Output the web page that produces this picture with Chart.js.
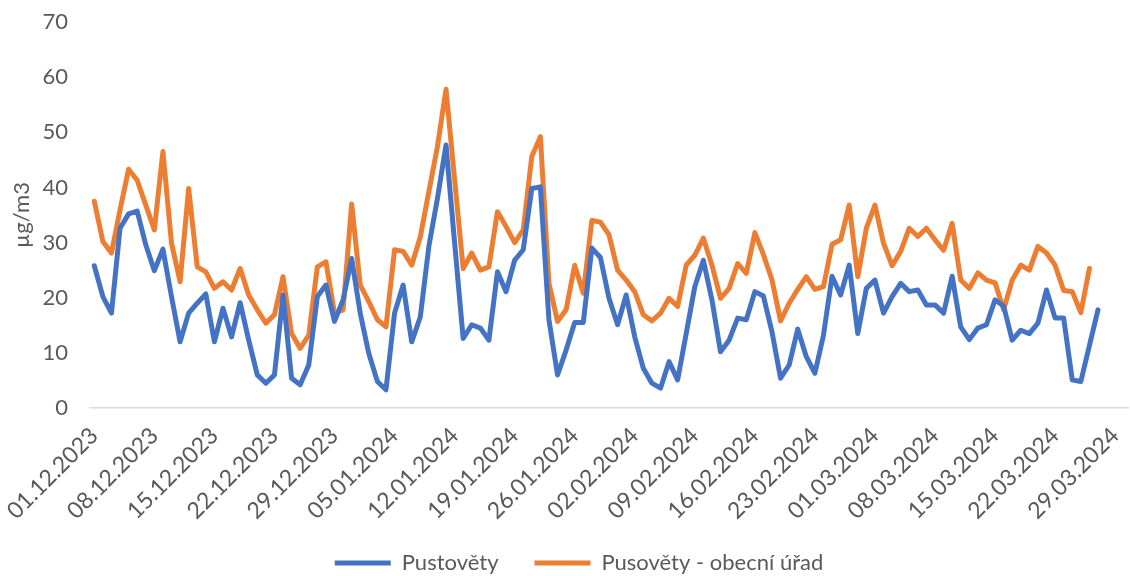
<!DOCTYPE html>
<html lang="cs">
<head>
<meta charset="utf-8">
<title>PM10 Pustověty</title>
<script src="https://cdn.jsdelivr.net/npm/chart.js@4.4.1/dist/chart.umd.min.js"></script>
<style>
  html, body { margin: 0; padding: 0; background: #ffffff; }
  #wrap { width: 1130px; height: 576px; position: relative; }
</style>
</head>
<body>
<div id="wrap"><canvas id="chart" width="1130" height="576"></canvas></div>
<script>
// Daily dates 01.12.2023 – 30.03.2024
const days = [
  '01.12.2023','02.12.2023','03.12.2023','04.12.2023','05.12.2023','06.12.2023','07.12.2023','08.12.2023','09.12.2023','10.12.2023',
  '11.12.2023','12.12.2023','13.12.2023','14.12.2023','15.12.2023','16.12.2023','17.12.2023','18.12.2023','19.12.2023','20.12.2023',
  '21.12.2023','22.12.2023','23.12.2023','24.12.2023','25.12.2023','26.12.2023','27.12.2023','28.12.2023','29.12.2023','30.12.2023','31.12.2023',
  '01.01.2024','02.01.2024','03.01.2024','04.01.2024','05.01.2024','06.01.2024','07.01.2024','08.01.2024','09.01.2024','10.01.2024',
  '11.01.2024','12.01.2024','13.01.2024','14.01.2024','15.01.2024','16.01.2024','17.01.2024','18.01.2024','19.01.2024','20.01.2024',
  '21.01.2024','22.01.2024','23.01.2024','24.01.2024','25.01.2024','26.01.2024','27.01.2024','28.01.2024','29.01.2024','30.01.2024','31.01.2024',
  '01.02.2024','02.02.2024','03.02.2024','04.02.2024','05.02.2024','06.02.2024','07.02.2024','08.02.2024','09.02.2024','10.02.2024',
  '11.02.2024','12.02.2024','13.02.2024','14.02.2024','15.02.2024','16.02.2024','17.02.2024','18.02.2024','19.02.2024','20.02.2024',
  '21.02.2024','22.02.2024','23.02.2024','24.02.2024','25.02.2024','26.02.2024','27.02.2024','28.02.2024','29.02.2024',
  '01.03.2024','02.03.2024','03.03.2024','04.03.2024','05.03.2024','06.03.2024','07.03.2024','08.03.2024','09.03.2024','10.03.2024',
  '11.03.2024','12.03.2024','13.03.2024','14.03.2024','15.03.2024','16.03.2024','17.03.2024','18.03.2024','19.03.2024','20.03.2024',
  '21.03.2024','22.03.2024','23.03.2024','24.03.2024','25.03.2024','26.03.2024','27.03.2024','28.03.2024','29.03.2024','30.03.2024'
];

// Dates printed under the axis (weekly)
const tickLabels = [
  '01.12.2023','08.12.2023','15.12.2023','22.12.2023','29.12.2023','05.01.2024',
  '12.01.2024','19.01.2024','26.01.2024','02.02.2024','09.02.2024','16.02.2024',
  '23.02.2024','01.03.2024','08.03.2024','15.03.2024','22.03.2024','29.03.2024'
];

// Pustověty, daily mean (µg/m3)
const pustovety = [
  25.8, 20.2, 17.2, 32.6, 35.2, 35.7, 29.6, 24.9, 28.8, 20.2,
  12.0, 17.2, 19.0, 20.7, 12.0, 18.1, 12.9, 19.1, 12.3, 6.0,
  4.5, 6.0, 20.5, 5.4, 4.2, 7.8, 20.2, 22.3, 15.7, 19.6, 27.1,
  17.2, 9.9, 4.8, 3.3, 17.2, 22.3, 12.0, 16.5, 29.3, 38.0,
  47.7, 30.0, 12.6, 15.1, 14.5, 12.3, 24.7, 21.1, 26.8, 28.7,
  39.8, 40.1, 16.0, 6.0, 10.5, 15.5, 15.5, 29.0, 27.3, 19.9, 15.1,
  20.5, 12.9, 7.2, 4.5, 3.6, 8.4, 5.1, 13.5, 22.0, 26.8,
  19.6, 10.2, 12.3, 16.3, 16.0, 21.1, 20.3, 13.8, 5.4, 7.8,
  14.3, 9.3, 6.3, 13.2, 23.9, 20.5, 25.9, 13.5, 21.7,
  23.2, 17.2, 20.2, 22.6, 21.1, 21.4, 18.7, 18.7, 17.2, 23.9,
  14.7, 12.4, 14.5, 15.1, 19.6, 18.5, 12.3, 14.1, 13.5, 15.4,
  21.4, 16.3, 16.3, 5.1, 4.8, 11.3, 17.8, null, null, null
];

// Pusověty - obecní úřad, daily mean (µg/m3)
const obecniUrad = [
  37.5, 30.2, 28.1, 35.9, 43.3, 41.3, 36.8, 32.3, 46.5, 29.9,
  22.9, 39.8, 25.6, 24.7, 21.7, 22.9, 21.4, 25.3, 20.5, 17.8,
  15.4, 16.9, 23.8, 13.5, 10.8, 13.2, 25.6, 26.5, 17.2, 17.8, 37.0,
  22.3, 19.3, 16.0, 14.7, 28.7, 28.4, 25.9, 31.0, 39.2, 47.4,
  57.8, 41.5, 25.3, 28.1, 25.0, 25.6, 35.6, 32.9, 30.0, 32.3,
  45.6, 49.2, 22.6, 15.7, 17.8, 25.9, 20.8, 34.0, 33.7, 31.4, 25.0,
  23.2, 21.1, 16.9, 15.8, 17.2, 19.9, 18.4, 25.9, 27.7, 30.8,
  25.9, 19.9, 21.7, 26.2, 24.4, 31.8, 27.8, 23.2, 15.8, 19.0,
  21.5, 23.8, 21.5, 22.0, 29.7, 30.5, 36.8, 23.8, 32.6,
  36.8, 29.9, 25.8, 28.4, 32.6, 31.1, 32.6, 30.5, 28.6, 33.5,
  23.2, 21.7, 24.5, 23.2, 22.7, 17.8, 23.2, 25.9, 25.0, 29.3,
  28.1, 25.9, 21.3, 21.1, 17.3, 25.3, null, null, null, null
];

const seriesNames = ['Pustověty', 'Pusověty - obecní úřad'];
const seriesColors = ['#4472C4', '#ED7D31'];

const FONT = 'Lato, "Open Sans", sans-serif';
const TEXT = '#595959';

// Final placement tweaks: let the date labels run to the canvas bottom
// and move the legend row slightly down and right.
const layoutTweaks = {
  id: 'layoutTweaks',
  afterLayout(chart) {
    const x = chart.scales.x;
    if (x) { x.bottom = chart.height; }
    const lg = chart.legend;
    if (lg) {
      lg.top += 8; lg.bottom += 8;
      lg.left += 15; lg.right += 15;
    }
  }
};

new Chart(document.getElementById('chart'), {
  type: 'line',
  data: {
    labels: days,
    datasets: [pustovety, obecniUrad].map((vals, k) => ({
      label: seriesNames[k],
      data: vals,
      borderColor: seriesColors[k],
      backgroundColor: seriesColors[k],
      borderWidth: 5,
      borderCapStyle: 'round',
      borderJoinStyle: 'round',
      pointRadius: 0,
      pointHoverRadius: 0,
      tension: 0,
      fill: false
    }))
  },
  options: {
    responsive: false,
    devicePixelRatio: 1,
    animation: false,
    layout: { padding: { top: 22, right: 2, bottom: 0, left: 0 } },
    plugins: {
      tooltip: { enabled: false },
      legend: {
        position: 'bottom',
        labels: {
          usePointStyle: true,
          pointStyle: 'line',
          pointStyleWidth: 56,
          padding: 36,
          color: TEXT,
          font: { family: FONT, size: 22 }
        }
      }
    },
    scales: {
      x: {
        type: 'category',
        offset: true,
        grid: { display: false, drawTicks: false },
        border: { display: true, color: '#d9d9d9', width: 1.5 },
        ticks: {
          autoSkip: false,
          minRotation: 45,
          maxRotation: 45,
          padding: 14,
          color: TEXT,
          font: { family: FONT, size: 23 },
          callback(value) {
            const lab = this.getLabelForValue(value);
            return tickLabels.includes(lab) ? lab : '';
          }
        },
        afterFit(scale) {
          scale.height = 100;
          scale.paddingLeft = 0;
          scale.paddingRight = 0;
        }
      },
      y: {
        min: 0,
        max: 70,
        grid: { display: false, drawTicks: false },
        border: { display: false },
        ticks: {
          stepSize: 10,
          padding: 22,
          color: TEXT,
          font: { family: FONT, size: 22 }
        },
        title: {
          display: true,
          text: 'µg/m3',
          color: TEXT,
          padding: { top: 9, bottom: 0 },
          font: { family: FONT, size: 22 }
        },
        afterFit(scale) {
          scale.width = 90;
          scale.paddingTop = 0;
          scale.paddingBottom = 0;
        }
      }
    }
  },
  plugins: [layoutTweaks]
});
</script>
</body>
</html>
